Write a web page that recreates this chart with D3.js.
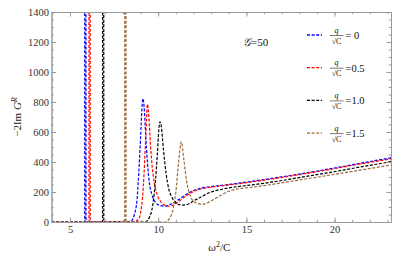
<!DOCTYPE html>
<html>
<head>
<meta charset="utf-8">
<script src="https://cdn.jsdelivr.net/npm/d3@7"></script>
<style>
  body { margin: 0; background: #fff; }
  svg { display: block; }
  svg text { font-family: "Liberation Serif", "Times New Roman", "DejaVu Serif", serif !important; }
</style>
</head>
<body>
<div id="chart"></div>
<script>
// data: [omega^2/C, -2 Im G^R]
const qLabels = ['= 0', '=0.5', '=1.0', '=1.5'];
const poles = [5.87, 6.11, 6.88, 8.14];

const seriesQ0 = [[3.95,0],[8.2,0],[8.5,10],[8.65,50],[8.8,150],[8.9,330],[9.0,560],[9.08,760],[9.14,822],
  [9.2,770],[9.3,560],[9.4,380],[9.5,260],[9.65,180],[9.85,130],[10.1,110],[10.35,106],[10.7,118],[11.1,145],
  [11.6,185],[12.0,210],[12.4,225],[13,236],[14,250],[15,266],[16,283],[18,320],[20,360],[22,403],[23.2,428]];
const seriesQ05 = [[3.95,0],[8.6,0],[8.85,15],[9.0,60],[9.1,150],[9.2,330],[9.3,580],[9.39,785],[9.47,700],
  [9.56,520],[9.66,370],[9.78,260],[9.95,180],[10.15,135],[10.4,110],[10.65,105],[10.9,115],[11.2,140],
  [11.6,175],[12.0,203],[12.4,220],[13,232],[14,247],[15,262],[16,279],[18,316],[20,356],[22,398],[23.2,420]];
const seriesQ10 = [[3.95,0],[9.25,0],[9.5,30],[9.7,120],[9.85,280],[9.95,450],[10.04,620],[10.1,668],[10.17,640],
  [10.3,480],[10.45,320],[10.6,220],[10.8,160],[11.0,128],[11.3,113],[11.6,115],[12.0,140],[12.5,172],
  [13,200],[13.5,215],[14,227],[15,243],[16,258],[18,296],[20,336],[22,378],[23.2,402]];
const seriesQ15 = [[3.95,0],[10.4,0],[10.65,25],[10.85,90],[11.0,200],[11.15,390],[11.31,535],[11.45,420],
  [11.6,280],[11.8,180],[12.1,130],[12.5,118],[13.0,140],[13.5,175],[14.0,205],[14.5,220],[15.2,230],
  [16,243],[18,280],[20,318],[22,357],[23.2,380]];

const allSeries = [seriesQ0, seriesQ05, seriesQ10, seriesQ15];
const colors = ['#0000ff', '#ff0000', '#000000', '#9c6b3c'];

const xTicks = [5, 10, 15, 20];
const yTicks = [0, 200, 400, 600, 800, 1000, 1200, 1400];

const W = 398, H = 263;
const m = {l: 51.5, r: 391, t: 12, b: 222};

const svg = d3.select('#chart').append('svg')
  .attr('width', W).attr('height', H);

const x = d3.scaleLinear().domain([3.95, 23.2]).range([m.l, m.r]);
const y = d3.scaleLinear().domain([0, 1400]).range([m.b, m.t]);

svg.append('clipPath').attr('id', 'clip')
  .append('rect').attr('x', m.l).attr('y', m.t)
  .attr('width', m.r - m.l).attr('height', m.b - m.t);

// put the narrow pole spike into each series
function withPole(pts, p) {
  const out = pts.filter(d => d[0] < p - 0.08 || d[0] > p + 0.08);
  out.push([p - 0.036, 0], [p - 0.032, 3000], [p + 0.032, 3000], [p + 0.036, 0]);
  return out.sort((a, b) => a[0] - b[0]);
}

const line = d3.line()
  .x(d => x(d[0]))
  .y(d => y(d[1]))
  .curve(d3.curveMonotoneX);

const plot = svg.append('g').attr('clip-path', 'url(#clip)');
allSeries.forEach((s, i) => {
  plot.append('path')
    .datum(withPole(s, poles[i]))
    .attr('fill', 'none')
    .attr('stroke', colors[i])
    .attr('stroke-width', 1.2)
    .attr('stroke-dasharray', '3,1.6')
    .attr('d', line);
});

// frame with inward ticks
const frameColor = '#9a9a9a';
function styleAxis(g, labels) {
  g.attr('font-family', null);
  g.select('.domain').attr('stroke', frameColor);
  g.selectAll('.tick line').attr('stroke', frameColor);
  g.selectAll('.tick text')
    .attr('fill', '#333')
    .style('font-size', '10.5px');
  if (!labels) g.selectAll('.tick text').remove();
}

const xMinor = d3.range(4, 24, 1);
const yMinor = d3.range(0, 1401, 50);
const fmt = d3.format('d');

// minor ticks
svg.append('g').attr('transform', `translate(0,${m.b})`)
  .call(d3.axisBottom(x).tickValues(xMinor).tickSize(-2.2).tickSizeOuter(0))
  .call(g => styleAxis(g, false));
svg.append('g').attr('transform', `translate(0,${m.t})`)
  .call(d3.axisTop(x).tickValues(xMinor).tickSize(-2.2).tickSizeOuter(0))
  .call(g => styleAxis(g, false));
svg.append('g').attr('transform', `translate(${m.l},0)`)
  .call(d3.axisLeft(y).tickValues(yMinor).tickSize(-2.2).tickSizeOuter(0))
  .call(g => styleAxis(g, false));
svg.append('g').attr('transform', `translate(${m.r},0)`)
  .call(d3.axisRight(y).tickValues(yMinor).tickSize(-2.2).tickSizeOuter(0))
  .call(g => styleAxis(g, false));

// major ticks
svg.append('g').attr('transform', `translate(0,${m.b})`)
  .call(d3.axisBottom(x).tickValues(xTicks).tickFormat(fmt).tickSize(-4.5).tickSizeOuter(0).tickPadding(4))
  .call(g => styleAxis(g, true));
svg.append('g').attr('transform', `translate(0,${m.t})`)
  .call(d3.axisTop(x).tickValues(xTicks).tickSize(-4.5).tickSizeOuter(0))
  .call(g => styleAxis(g, false));
svg.append('g').attr('transform', `translate(${m.l},0)`)
  .call(d3.axisLeft(y).tickValues(yTicks).tickFormat(fmt).tickSize(-4.5).tickSizeOuter(0).tickPadding(2.5))
  .call(g => styleAxis(g, true));
svg.append('g').attr('transform', `translate(${m.r},0)`)
  .call(d3.axisRight(y).tickValues(yTicks).tickSize(-4.5).tickSizeOuter(0))
  .call(g => styleAxis(g, false));

// axis labels
const yLab = svg.append('text')
  .attr('transform', `translate(21,${(m.t + m.b) / 2}) rotate(-90)`)
  .attr('text-anchor', 'middle')
  .style('font-size', '11px')
  .attr('fill', '#222');
yLab.append('tspan').text('\u22122Im ');
yLab.append('tspan').attr('font-style', 'italic').text('G');
yLab.append('tspan').attr('font-style', 'italic').attr('dy', -4).style('font-size', '8px').text('R');

const xLab = svg.append('text')
  .attr('x', (m.l + m.r) / 2 - 2).attr('y', 251)
  .attr('text-anchor', 'middle')
  .style('font-size', '11px')
  .attr('fill', '#222');
xLab.append('tspan').attr('font-style', 'italic').text('\u03C9');
xLab.append('tspan').attr('dy', -4).style('font-size', '8px').text('2');
xLab.append('tspan').attr('dy', 4).text('/C');

// coupling annotation
const gLab = svg.append('text')
  .attr('x', 243).attr('y', 46)
  .style('font-size', '11px')
  .attr('fill', '#111');
gLab.append('tspan').attr('font-style', 'italic').text('\uD835\uDCA2');
gLab.append('tspan').text('=50');

// legend
const legend = svg.append('g');
qLabels.forEach((lab, i) => {
  const cy = 35 + i * 32.7;
  const g = legend.append('g').attr('transform', `translate(0,${cy})`);
  g.append('line')
    .attr('x1', 307).attr('x2', 322).attr('y1', 0).attr('y2', 0)
    .attr('stroke', colors[i]).attr('stroke-width', 1.3)
    .attr('stroke-dasharray', '3,1.6');
  g.append('text').attr('x', 336.5).attr('y', -2.5)
    .attr('text-anchor', 'middle').attr('font-style', 'italic')
    .style('font-size', '8px').attr('fill', '#111').text('q');
  g.append('line')
    .attr('x1', 330).attr('x2', 343.5).attr('y1', 0.5).attr('y2', 0.5)
    .attr('stroke', '#222').attr('stroke-width', 0.6);
  g.append('text').attr('x', 336.5).attr('y', 8.5)
    .attr('text-anchor', 'middle')
    .style('font-size', '8px').attr('fill', '#111').text('\u221AC');
  g.append('text').attr('x', 345.5).attr('y', 4)
    .style('font-size', '10.5px').attr('fill', '#111').text(lab);
});
</script>
</body>
</html>
